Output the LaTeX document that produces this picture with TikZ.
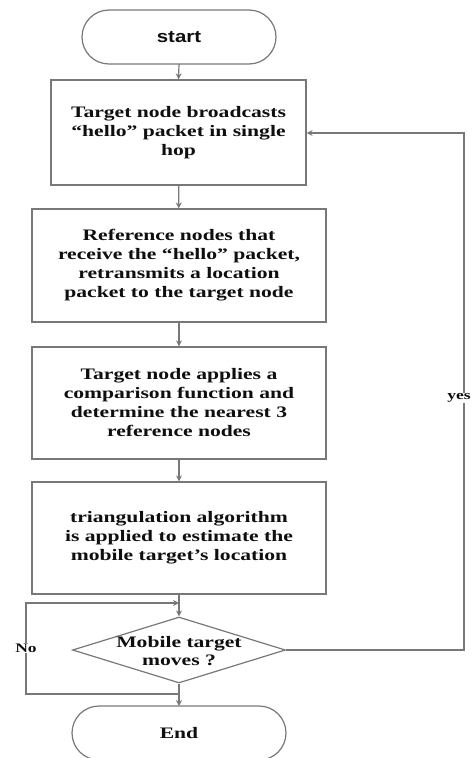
\documentclass[tikz,border=0pt]{standalone}
\usepackage{fontspec}
\setmainfont{Liberation Serif}[FakeStretch=1.35]
\setsansfont{Liberation Sans}[FakeStretch=1.2]
\usetikzlibrary{shapes.geometric,arrows.meta}
\definecolor{linegray}{RGB}{120,120,120}
\definecolor{txt}{RGB}{15,15,15}
\tikzset{
  boxstyle/.style={draw=linegray,line width=1.2pt,fill=white,text=txt,align=center,
     font=\fontsize{16}{19}\selectfont\bfseries,inner sep=0pt},
  termstyle/.style={draw=linegray,line width=1.2pt,rounded corners=27pt,fill=white,text=txt},
  conn/.style={draw=linegray,line width=1.2pt,-{Stealth[length=6pt,width=6pt]}},
  lbl/.style={fill=white,text=txt,font=\fontsize{13}{15}\selectfont\bfseries,inner sep=1pt}
}
\begin{document}
\begin{tikzpicture}[x=1pt,y=-1pt]
\useasboundingbox (0,0) rectangle (473,758);
% start
\draw[termstyle] (82,10) rectangle (276,64);
\node[text=txt,font=\sffamily\bfseries\fontsize{17}{18}\selectfont] (start) at (179,37) {start};
\coordinate (startb) at (179,64);
% boxes
\node[boxstyle,minimum width=255pt,minimum height=105pt] (b1) at (178.5,132.5)
  {Target node broadcasts\\“hello” packet in single\\hop};
\node[boxstyle,minimum width=294pt,minimum height=113pt] (b2) at (179,265.5)
  {Reference nodes that\\receive the “hello” packet,\\retransmits a location\\packet to the target node};
\node[boxstyle,minimum width=294pt,minimum height=112pt] (b3) at (179,403)
  {Target node applies a\\comparison function and\\determine the nearest 3\\reference nodes};
\node[boxstyle,minimum width=294pt,minimum height=112pt] (b4) at (179,538)
  {triangulation algorithm\\is applied to estimate the\\mobile target’s location};
\node[boxstyle,diamond,aspect=3.23,minimum width=213pt,minimum height=66pt,inner sep=0pt] (d) at (179,650) {};
\node[text=txt,align=center,font=\fontsize{16}{18}\selectfont\bfseries] (dt) at (179,651) {Mobile target\\moves ?};
% end
\draw[termstyle] (72,706) rectangle (286,760);
\node[text=txt,font=\fontsize{16}{18}\selectfont\bfseries] (end) at (179,733) {End};
\coordinate (endt) at (179,706);
% connectors
\draw[conn] (startb) -- (b1.north);
\draw[conn] (b1) -- (b2);
\draw[conn] (b2) -- (b3);
\draw[conn] (b3) -- (b4);
\draw[conn] (b4) -- (d);
\draw[conn] (d.south) -- (endt);
% No loop
\coordinate (nb) at (179,694);
\coordinate (nt) at (179,603);
\coordinate (nbl) at (26,694);
\coordinate (ntl) at (26,603);
\draw[conn] (nb) -- (nbl) -- (ntl) -- (nt);
\node[lbl] (no) at (26,648) {No};
% yes loop
\coordinate (yr) at (464,650);
\coordinate (yt) at (464,133);
\draw[conn] (d.east) -- (yr) -- (yt) -- (b1.east |- yt);
\node[lbl] (yes) at (459,398) {yes};
\end{tikzpicture}
\end{document}
